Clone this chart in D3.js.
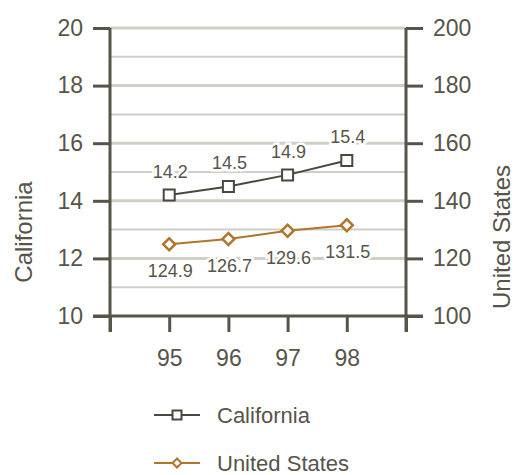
<!DOCTYPE html>
<html>
<head>
<meta charset="utf-8">
<script src="https://cdn.jsdelivr.net/npm/d3@7"></script>
<style>
  html, body { margin: 0; padding: 0; background: #fff; }
  svg { display: block; font-family: "Liberation Sans", Arial, sans-serif; }
</style>
</head>
<body>
<svg id="chart" width="516" height="475"></svg>
<script>
// Years on the x axis (two-digit labels)
const years = [95, 96, 97, 98];
// California values (left axis)
const california = [14.2, 14.5, 14.9, 15.4];
// United States values (right axis)
const unitedStates = [124.9, 126.7, 129.6, 131.5];
// Tick values
const leftTicks = [10, 12, 14, 16, 18, 20];
const rightTicks = [100, 120, 140, 160, 180, 200];
const gridValues = [11, 12, 13, 14, 15, 16, 17, 18, 19, 20];
const seriesNames = ["California", "United States"];

const axisColor = "#57544a";
const textColor = "#57544a";
const gridColor = "#cfcfc8";
const caColor = "#4a473f";
const usColor = "#b0742a";

const svg = d3.select("#chart");

const x = d3.scaleLinear().domain([94, 99]).range([110, 406]);
const yL = d3.scaleLinear().domain([10, 20]).range([316, 28]);
const yR = d3.scaleLinear().domain([100, 200]).range([316, 28]);

// Horizontal grid lines
svg.append("g").selectAll("line").data(gridValues).join("line")
  .attr("x1", 110).attr("x2", 406)
  .attr("y1", d => yL(d)).attr("y2", d => yL(d))
  .attr("stroke", gridColor)
  .attr("stroke-width", d => d % 2 === 0 ? 3 : 2);

// Left axis
const leftAxis = svg.append("g").attr("transform", "translate(110,0)")
  .call(d3.axisLeft(yL).tickValues(leftTicks).tickSize(17).tickPadding(10).tickSizeOuter(0));
// Right axis
const rightAxis = svg.append("g").attr("transform", "translate(406,0)")
  .call(d3.axisRight(yR).tickValues(rightTicks).tickSize(17).tickPadding(10).tickSizeOuter(0));
// Bottom axis
const bottomAxis = svg.append("g").attr("transform", "translate(0,316)")
  .call(d3.axisBottom(x).tickValues([94, 95, 96, 97, 98, 99]).tickSize(16).tickPadding(18)
    .tickFormat(d => years.includes(d) ? String(d) : "").tickSizeOuter(0));

[leftAxis, rightAxis, bottomAxis].forEach(g => {
  g.select(".domain").attr("stroke", axisColor).attr("stroke-width", 3);
  g.selectAll(".tick line").attr("stroke", axisColor).attr("stroke-width", 3);
  g.selectAll(".tick text").attr("fill", textColor).attr("font-size", 23)
    .attr("font-family", "Liberation Sans, Arial, sans-serif");
});
bottomAxis.select(".domain").attr("d", "M93,0H423");
leftAxis.select(".domain").attr("d", "M0,28V332");
rightAxis.select(".domain").attr("d", "M0,28V332");

// Axis titles
svg.append("text")
  .attr("transform", "translate(32,232) rotate(-90)")
  .attr("text-anchor", "middle")
  .attr("font-size", 24).attr("fill", textColor)
  .text(seriesNames[0]);
svg.append("text")
  .attr("transform", "translate(510,237) rotate(-90)")
  .attr("text-anchor", "middle")
  .attr("font-size", 24).attr("fill", textColor)
  .text(seriesNames[1]);

const caData = years.map((yr, i) => ({ yr, v: california[i] }));
const usData = years.map((yr, i) => ({ yr, v: unitedStates[i] }));

// Series lines
svg.append("path").datum(caData)
  .attr("fill", "none").attr("stroke", caColor).attr("stroke-width", 2)
  .attr("d", d3.line().x(d => x(d.yr)).y(d => yL(d.v)));
svg.append("path").datum(usData)
  .attr("fill", "none").attr("stroke", usColor).attr("stroke-width", 2)
  .attr("d", d3.line().x(d => x(d.yr)).y(d => yR(d.v)));

// Markers: open squares and open diamonds (squares turned 45°)
const sq = d3.symbol().type(d3.symbolSquare).size(121);
const dia = d3.symbol().type(d3.symbolSquare).size(72);

svg.append("g").selectAll("path").data(caData).join("path")
  .attr("transform", d => `translate(${x(d.yr)},${yL(d.v)})`)
  .attr("d", sq).attr("fill", "#fff").attr("stroke", caColor).attr("stroke-width", 2);
svg.append("g").selectAll("path").data(usData).join("path")
  .attr("transform", d => `translate(${x(d.yr)},${yR(d.v)}) rotate(45)`)
  .attr("d", dia).attr("fill", "#fff").attr("stroke", usColor).attr("stroke-width", 2.5);

// Value labels with a white halo over the grid
function valueLabels(data, yScale, dy) {
  svg.append("g").selectAll("text").data(data).join("text")
    .attr("x", d => x(d.yr) + 1)
    .attr("y", d => yScale(d.v) + dy)
    .attr("text-anchor", "middle")
    .attr("dominant-baseline", "central")
    .attr("font-size", 18)
    .attr("fill", textColor)
    .attr("stroke", "#fff").attr("stroke-width", 5)
    .attr("paint-order", "stroke")
    .text(d => d.v.toFixed(1));
}
valueLabels(caData, yL, -23);
valueLabels(usData, yR, 27);

// Legend
const legendRows = [
  { name: seriesNames[0], color: caColor, size: 81, rot: 0, y: 415 },
  { name: seriesNames[1], color: usColor, size: 40, rot: 45, y: 463 }
];
const lg = svg.append("g").selectAll("g").data(legendRows).join("g")
  .attr("transform", d => `translate(0,${d.y})`);
lg.append("line").attr("x1", 154).attr("x2", 200).attr("y1", 0).attr("y2", 0)
  .attr("stroke", d => d.color).attr("stroke-width", 2);
lg.append("path").attr("transform", d => `translate(177,0) rotate(${d.rot})`)
  .attr("d", d => d3.symbol().type(d3.symbolSquare).size(d.size)())
  .attr("fill", "#fff")
  .attr("stroke", d => d.color).attr("stroke-width", 2);
lg.append("text").attr("x", 217).attr("y", 8)
  .attr("font-size", 22).attr("fill", textColor)
  .text(d => d.name);
</script>
</body>
</html>
